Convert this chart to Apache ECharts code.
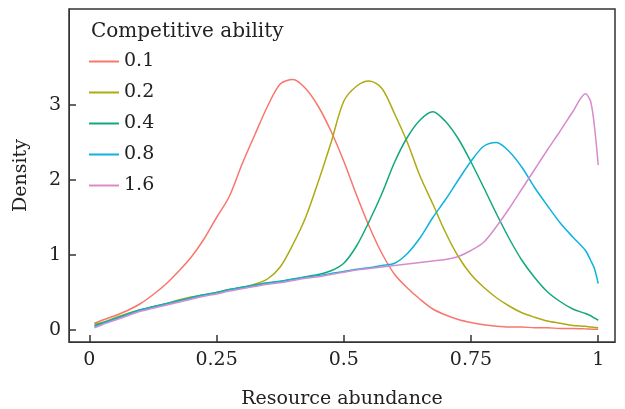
<!DOCTYPE html>
<html>
<head>
<meta charset="utf-8">
<script src="https://cdn.jsdelivr.net/npm/echarts@6/dist/echarts.min.js"></script>
<style>
  html, body { margin: 0; padding: 0; background: #fff; }
  #chart { width: 625px; height: 409px; }
</style>
</head>
<body>
<div id="chart"></div>
<script>
// resource abundance grid (shared by all curves)
var xs = [0.01, 0.025, 0.05, 0.075, 0.1, 0.125, 0.15, 0.175, 0.2, 0.225,
          0.25, 0.275, 0.3, 0.325, 0.35, 0.375, 0.4, 0.425, 0.45, 0.475,
          0.5, 0.525, 0.55, 0.575, 0.6, 0.625, 0.65, 0.675, 0.7, 0.725,
          0.75, 0.775, 0.8, 0.825, 0.85, 0.875, 0.9, 0.925, 0.95, 0.975,
          0.985, 0.9925, 1.0];

// density per competitive ability
var dens01 = [0.09, 0.13, 0.19, 0.26, 0.35, 0.47, 0.61, 0.78, 0.97, 1.21,
              1.50, 1.78, 2.21, 2.60, 2.98, 3.28, 3.34, 3.22, 2.98, 2.65,
              2.25, 1.80, 1.38, 1.02, 0.74, 0.56, 0.41, 0.28, 0.20, 0.14,
              0.10, 0.07, 0.05, 0.04, 0.04, 0.03, 0.03, 0.02, 0.02, 0.015,
              0.012, 0.01, 0.01];
var dens02 = [0.08, 0.10, 0.16, 0.22, 0.27, 0.31, 0.35, 0.40, 0.44, 0.47,
              0.50, 0.54, 0.57, 0.61, 0.68, 0.84, 1.14, 1.50, 1.98, 2.50,
              3.05, 3.25, 3.32, 3.22, 2.88, 2.50, 2.05, 1.68, 1.30, 0.98,
              0.74, 0.57, 0.43, 0.32, 0.23, 0.17, 0.12, 0.09, 0.06, 0.05,
              0.04, 0.035, 0.03];
var dens04 = [0.06, 0.09, 0.15, 0.21, 0.27, 0.31, 0.35, 0.39, 0.43, 0.47,
              0.50, 0.54, 0.57, 0.60, 0.63, 0.65, 0.68, 0.71, 0.74, 0.79,
              0.89, 1.12, 1.45, 1.82, 2.24, 2.57, 2.80, 2.91, 2.78, 2.55,
              2.24, 1.90, 1.55, 1.22, 0.93, 0.70, 0.51, 0.38, 0.28, 0.22,
              0.19, 0.16, 0.13];
var dens08 = [0.045, 0.085, 0.145, 0.205, 0.265, 0.305, 0.345, 0.385, 0.425, 0.465,
              0.495, 0.535, 0.565, 0.595, 0.625, 0.645, 0.675, 0.705, 0.725, 0.755,
              0.78, 0.81, 0.83, 0.86, 0.89, 1.02, 1.23, 1.50, 1.74, 2.00,
              2.25, 2.45, 2.50, 2.38, 2.17, 1.90, 1.66, 1.43, 1.24, 1.06,
              0.93, 0.82, 0.62];
var dens16 = [0.03, 0.07, 0.13, 0.19, 0.25, 0.29, 0.33, 0.37, 0.41, 0.45,
              0.48, 0.52, 0.55, 0.58, 0.61, 0.63, 0.66, 0.69, 0.71, 0.74,
              0.77, 0.80, 0.82, 0.84, 0.86, 0.88, 0.90, 0.92, 0.94, 0.98,
              1.06, 1.17, 1.38, 1.62, 1.88, 2.14, 2.40, 2.65, 2.91, 3.15,
              3.05, 2.72, 2.20];

var names = ['0.1', '0.2', '0.4', '0.8', '1.6'];
var colors = ['#F8766D', '#ADAA12', '#12A87E', '#0DB3DE', '#D68CCB'];
var xTicks = [0, 0.25, 0.5, 0.75, 1];
var yTicks = [0, 1, 2, 3];

var FONT = 'DejaVu Serif';
var TXT = '#222';
var LINE = '#333';

// axis ranges (panel is a little wider than the data, like ggplot)
var X_MIN = -0.04, X_MAX = 1.033;
var Y_MIN = -0.16, Y_MAX = 4.28;
// inward tick length of ~7px, in data units
var TICK_X = 7 * (X_MAX - X_MIN) / 546;
var TICK_Y = 7 * (Y_MAX - Y_MIN) / 333;

function pairs(ys){
    var res = [];
    for(var i = 0; i < xs.length; i++){
        res[i] = [xs[i], ys[i]];
    }
    return res;
}

// short tick segments at the tick values, drawn through the grid's scales
function tickLines(){
    var res = [];
    for(var i = 0; i < xTicks.length; i++){
        res.push([{ coord: [xTicks[i], Y_MIN] }, { coord: [xTicks[i], Y_MIN + TICK_Y] }]);
    }
    for(var j = 0; j < yTicks.length; j++){
        res.push([{ coord: [X_MIN, yTicks[j]] }, { coord: [X_MIN + TICK_X, yTicks[j]] }]);
    }
    return res;
}

var allDens = [dens01, dens02, dens04, dens08, dens16];
var series = [];
for(var k = 0; k < allDens.length; k++){
    series.push({
        name: names[k],
        type: 'line',
        data: pairs(allDens[k]),
        symbol: 'none',
        smooth: 0.3,
        lineStyle: { color: colors[k], width: 1.5 },
        itemStyle: { color: colors[k] }
    });
}
series[0].markLine = {
    silent: true,
    symbol: 'none',
    animation: false,
    label: { show: false },
    emphasis: { disabled: true },
    lineStyle: { color: LINE, width: 1.5, type: 'solid' },
    data: tickLines()
};

var chart = echarts.init(document.getElementById('chart'));
chart.setOption({
    animation: false,
    title: {
        text: 'Competitive ability',
        left: 86,
        top: 17,
        textStyle: { fontFamily: FONT, fontSize: 20, fontWeight: 'normal', color: TXT }
    },
    legend: {
        orient: 'vertical',
        left: 89,
        top: 52,
        icon: 'rect',
        itemWidth: 30,
        itemHeight: 2,
        itemGap: 12,
        itemTextGap: 8,
        padding: 0,
        data: names,
        textStyle: { fontFamily: FONT, fontSize: 19, color: TXT }
    },
    grid: {
        left: 69, right: 10, top: 9, bottom: 67,
        outerBoundsMode: 'none',
        show: true, borderColor: LINE, borderWidth: 1.5
    },
    xAxis: {
        type: 'value',
        min: X_MIN,
        max: X_MAX,
        name: 'Resource abundance',
        nameLocation: 'middle',
        nameGap: 48,
        nameTextStyle: { fontFamily: FONT, fontSize: 19, color: TXT },
        axisLine: { onZero: false, lineStyle: { color: LINE } },
        splitLine: { show: false },
        axisTick: { show: false },
        axisLabel: { customValues: xTicks, margin: 9, fontFamily: FONT, fontSize: 19, color: TXT }
    },
    yAxis: {
        type: 'value',
        min: Y_MIN,
        max: Y_MAX,
        name: 'Density',
        nameLocation: 'middle',
        nameRotate: 90,
        nameGap: 38,
        nameTextStyle: { fontFamily: FONT, fontSize: 19, color: TXT },
        axisLine: { show: true, onZero: false, lineStyle: { color: LINE } },
        splitLine: { show: false },
        axisTick: { show: false },
        axisLabel: { customValues: yTicks, margin: 8, fontFamily: FONT, fontSize: 19, color: TXT }
    },
    series: series
});
</script>
</body>
</html>
